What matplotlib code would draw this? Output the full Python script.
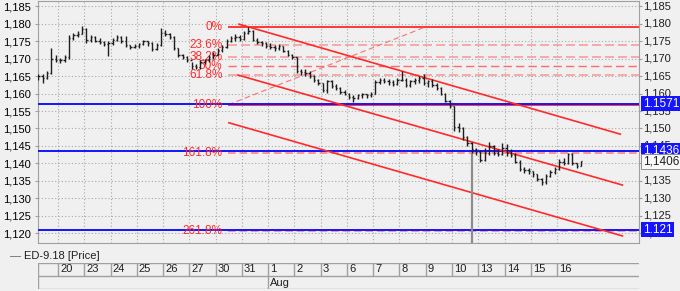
import matplotlib.pyplot as plt

plt.rcParams['font.family'] = ['Liberation Sans', 'DejaVu Sans']
plt.rcParams['font.size'] = 8

# trading days shown on the date strip (day index 1..20, index 0 = 19 Jul)
day_labels = ['20', '23', '24', '25', '26', '27', '30', '31', '1', '2',
              '3', '6', '7', '8', '9', '10', '13', '14', '15', '16']
month_label = 'Aug'
month_day = 9
bars_per_day = 6
first_slot = 1      # first bar sits in slot 1 of day 0

# 4h bars, one row per day
highs = [
    1.1657, 1.1655, 1.1665, 1.1731, 1.1712,
    1.1702, 1.1710, 1.1768, 1.1775, 1.1780, 1.1794,
    1.1788, 1.1768, 1.1765, 1.1760, 1.1752, 1.1750,
    1.1760, 1.1768, 1.1766, 1.1765, 1.1740, 1.1742,
    1.1745, 1.1755, 1.1752, 1.1748, 1.1745, 1.1788,
    1.1782, 1.1775, 1.1765, 1.1732, 1.1715, 1.1708,
    1.1692, 1.1685, 1.1695, 1.1700, 1.1710, 1.1718,
    1.1730, 1.1740, 1.1758, 1.1765, 1.1770, 1.1768,
    1.1780, 1.1792, 1.1782, 1.1760, 1.1752, 1.1748,
    1.1745, 1.1740, 1.1742, 1.1738, 1.1725, 1.1715,
    1.1705, 1.1672, 1.1670, 1.1665, 1.1652, 1.1642,
    1.1630, 1.1640, 1.1638, 1.1628, 1.1620, 1.1610,
    1.1602, 1.1595, 1.1600, 1.1602, 1.1600, 1.1605,
    1.1640, 1.1645, 1.1645, 1.1642, 1.1640, 1.1645,
    1.1666, 1.1645, 1.1640, 1.1645, 1.1650, 1.1656,
    1.1640, 1.1642, 1.1630, 1.1618, 1.1602, 1.1582,
    1.1565, 1.1515, 1.1505, 1.1478, 1.1460, 1.1445,
    1.1437, 1.1443, 1.1460, 1.1452, 1.1440, 1.1457,
    1.1455, 1.1440, 1.1430, 1.1410, 1.1390, 1.1388,
    1.1378, 1.1370, 1.1358, 1.1370, 1.1380, 1.1390,
    1.1412, 1.1415, 1.1431, 1.1430, 1.1402, 1.1408,
]
lows = [
    1.1638, 1.1631, 1.1642, 1.1655, 1.1690,
    1.1688, 1.1692, 1.1700, 1.1755, 1.1762, 1.1770,
    1.1746, 1.1748, 1.1748, 1.1742, 1.1737, 1.1709,
    1.1740, 1.1750, 1.1745, 1.1735, 1.1728, 1.1730,
    1.1732, 1.1740, 1.1738, 1.1722, 1.1725, 1.1738,
    1.1765, 1.1758, 1.1725, 1.1705, 1.1698, 1.1690,
    1.1672, 1.1671, 1.1672, 1.1685, 1.1690, 1.1700,
    1.1710, 1.1720, 1.1730, 1.1748, 1.1752, 1.1750,
    1.1755, 1.1770, 1.1750, 1.1742, 1.1738, 1.1730,
    1.1728, 1.1722, 1.1725, 1.1718, 1.1708, 1.1700,
    1.1660, 1.1652, 1.1650, 1.1645, 1.1632, 1.1626,
    1.1604, 1.1603, 1.1615, 1.1610, 1.1600, 1.1596,
    1.1585, 1.1575, 1.1585, 1.1588, 1.1588, 1.1590,
    1.1598, 1.1628, 1.1630, 1.1625, 1.1622, 1.1625,
    1.1635, 1.1618, 1.1620, 1.1628, 1.1630, 1.1625,
    1.1620, 1.1618, 1.1610, 1.1595, 1.1575, 1.1560,
    1.1494, 1.1490, 1.1468, 1.1450, 1.1430, 1.1425,
    1.1403, 1.1408, 1.1425, 1.1425, 1.1422, 1.1425,
    1.1420, 1.1418, 1.1400, 1.1378, 1.1372, 1.1370,
    1.1362, 1.1350, 1.1337, 1.1340, 1.1360, 1.1370,
    1.1382, 1.1395, 1.1398, 1.1395, 1.1386, 1.1392,
]
closes = [
    1.1650, 1.1645, 1.1660, 1.1700, 1.1697,
    1.1695, 1.1705, 1.1760, 1.1768, 1.1772, 1.1785,
    1.1755, 1.1762, 1.1752, 1.1748, 1.1742, 1.1745,
    1.1755, 1.1762, 1.1750, 1.1740, 1.1735, 1.1738,
    1.1742, 1.1750, 1.1745, 1.1728, 1.1740, 1.1775,
    1.1770, 1.1762, 1.1730, 1.1712, 1.1705, 1.1695,
    1.1678, 1.1675, 1.1690, 1.1695, 1.1705, 1.1712,
    1.1725, 1.1735, 1.1750, 1.1760, 1.1762, 1.1758,
    1.1775, 1.1780, 1.1755, 1.1748, 1.1745, 1.1738,
    1.1735, 1.1730, 1.1738, 1.1722, 1.1712, 1.1705,
    1.1665, 1.1662, 1.1658, 1.1650, 1.1638, 1.1630,
    1.1610, 1.1635, 1.1622, 1.1615, 1.1605, 1.1600,
    1.1590, 1.1588, 1.1595, 1.1598, 1.1595, 1.1600,
    1.1632, 1.1638, 1.1635, 1.1632, 1.1628, 1.1640,
    1.1640, 1.1625, 1.1635, 1.1638, 1.1645, 1.1630,
    1.1635, 1.1625, 1.1615, 1.1600, 1.1580, 1.1565,
    1.1505, 1.1500, 1.1475, 1.1458, 1.1440, 1.1432,
    1.1410, 1.1430, 1.1450, 1.1430, 1.1428, 1.1445,
    1.1430, 1.1425, 1.1405, 1.1385, 1.1380, 1.1378,
    1.1368, 1.1355, 1.1345, 1.1365, 1.1375, 1.1385,
    1.1405, 1.1400, 1.1428, 1.1400, 1.1392, 1.1406,
]
first_open = 1.1645

# bad tick on 10 Aug
spike_bar = 99
spike_low = 1.1050

# horizontal levels with blue price tags
level_prices = [1.1571, 1.1436, 1.121]
level_tags = ['1.1571', '1.1436', '1.121']
last_price = 1.1406
last_tag = '1,1406'

# fibonacci tool
fib_high = 1.1791
fib_low = 1.1568
fib_ratios = [0.0, 0.236, 0.382, 0.5, 0.618, 1.0, 1.618, 2.618]
fib_names = ['0%', '23.6%', '38.2%', '50%', '61.8%', '100%', '161.8%', '261.8%']
fib_start = 7.48
fib_top_end = 14.98

# parallel channel (start day, start price, end day, end price)
channel_t0 = [7.857, 7.819, 7.476]
channel_p0 = [1.1800, 1.1654, 1.1517]
channel_t1 = [22.44, 22.52, 22.52]
channel_p1 = [1.1483, 1.1337, 1.1191]

x_min, x_max = 0.238, 23.12
y_min, y_max = 1.11714, 1.18657
y_ticks = [1.120 + 0.005 * i for i in range(14)]
hidden_right = [1.140]   # covered by the last-price tag

bg = '#f0f0f0'
grey = '#a0a0a0'
red = '#ff2a2a'
pink = '#f7a3a3'

fig = plt.figure(figsize=(6.8, 2.91), dpi=100, facecolor=bg)
W, H = 680, 291
ax = fig.add_axes([38 / W, 1 - 243 / H, 601 / W, 242 / H], facecolor=bg)
ax.set_xlim(x_min, x_max)
ax.set_ylim(y_min, y_max)

ax.set_xticks(range(1, len(day_labels) + 1))
ax.set_xticklabels([])
ax.set_yticks(y_ticks)
ax.set_yticklabels([f"{v:.3f}".replace('.', ',') for v in y_ticks])
ax.tick_params(axis='x', length=0)
ax.tick_params(axis='y', length=2, color=grey, right=True, pad=3)
ax.grid(True, color='#a8a8a8', ls=(0, (1, 2)), lw=0.8, zorder=0)
for s in ax.spines.values():
    s.set_color(grey)
    s.set_linewidth(0.8)

tr = ax.get_yaxis_transform()
for v in y_ticks:
    if any(abs(v - h) < 1e-6 for h in hidden_right):
        continue
    ax.text(1.007, v, f"{v:.3f}".replace('.', ','), transform=tr, ha='left',
            va='center', fontsize=8, color='#202020', clip_on=False, zorder=1)

# fibonacci levels
rng = fib_high - fib_low
for r, name in zip(fib_ratios, fib_names):
    lvl = fib_high - rng * r
    if r in (0.0, 1.0):
        ax.hlines(lvl, fib_start, x_max, color=red, lw=1.3, zorder=3)
    elif r == 0.5:
        ax.hlines(lvl, fib_start, x_max, color='#ff6a6a', lw=1.0, ls=(0, (6, 3)), zorder=3)
    elif r > 1:
        ax.hlines(lvl, fib_start, x_max, color='#ff7a7a', lw=1.1, ls=(0, (5, 2.5)), zorder=3)
    else:
        ax.hlines(lvl, fib_start, x_max, color=pink, lw=1.3, ls=(0, (5, 2.2)), zorder=3)
    ax.text(fib_start - 0.22, lvl, name, color=red, ha='right', va='center',
            fontsize=8.5, zorder=6)
ax.plot([fib_start, fib_top_end], [fib_low, fib_high], color='#ff7070',
        lw=0.8, ls=(0, (5, 3)), zorder=3)

# blue levels
for p in level_prices:
    ax.axhline(p, color='#1414ff', lw=1.4, zorder=4)

# channel
for a, b, c, d in zip(channel_t0, channel_p0, channel_t1, channel_p1):
    ax.plot([a, c], [b, d], color=red, lw=1.2, zorder=4, solid_capstyle='butt')

# OHLC bars
n = len(closes)
t = [(first_slot + i + 0.5) / bars_per_day for i in range(n)]
opens = [first_open] + closes[:-1]
w = 0.3 / bars_per_day
ax.vlines(t[spike_bar], spike_low, lows[spike_bar], color='#8c8c8c', lw=1.6, zorder=5)
ax.vlines(t, lows, highs, color='#1e1e1e', lw=1.0, zorder=6)
ax.hlines(opens, [x - w for x in t], t, color='#1e1e1e', lw=1.0, zorder=6)
ax.hlines(closes, t, [x + w for x in t], color='#1e1e1e', lw=1.0, zorder=6)

# price tags on the right
for p, tag in zip(level_prices, level_tags):
    ax.text(1.006, p, tag, transform=tr, ha='left', va='center', color='white',
            fontsize=8.5, zorder=10, clip_on=False,
            bbox=dict(boxstyle='square,pad=0.12', fc='#1414ff', ec='none'))
ax.text(1.006, last_price, last_tag, transform=tr, ha='left', va='center',
        color='#202020', fontsize=8.5, zorder=10, clip_on=False,
        bbox=dict(boxstyle='square,pad=0.12', fc='#f8f8f8', ec='#909090', lw=0.7))

# legend line
fig.text(10 / W, 1 - 256 / H, '—', color='#606060', va='center', ha='left', fontsize=8)
fig.text(24 / W, 1 - 256 / H, 'ED-9.18 [Price]', color='#202020', va='center',
         ha='left', fontsize=8)

# date strip
axd = fig.add_axes([38 / W, 1 - 289 / H, 601 / W, 26 / H], facecolor=bg)
axd.set_xlim(x_min, x_max)
axd.set_ylim(0, 2)
axd.axis('off')
for yy in (0, 1, 2):
    axd.axhline(yy, color=grey, lw=1.0)
axd.vlines([x_min + 0.01], 0, 2, color=grey, lw=1.0)
for i, lab in enumerate(day_labels, start=1):
    axd.vlines(i, 1, 2, color=grey, lw=1.0)
    axd.text(i + 0.08, 1.5, lab, ha='left', va='center', fontsize=8, color='#202020')
axd.vlines(month_day, 0, 1, color=grey, lw=1.0)
axd.text(month_day + 0.08, 0.5, month_label, ha='left', va='center', fontsize=8,
         color='#202020')

fig.savefig('out.png', dpi=100, facecolor=bg)
